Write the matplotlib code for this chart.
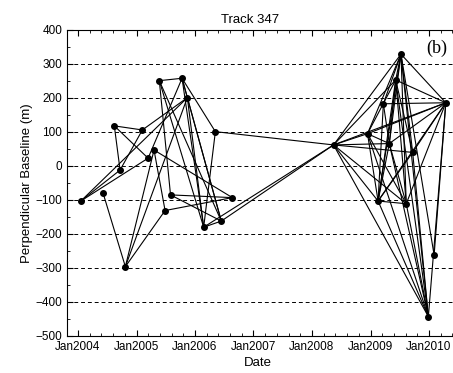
import matplotlib
matplotlib.use("Agg")
import matplotlib.pyplot as plt
import matplotlib.dates as mdates
from matplotlib.ticker import FixedLocator, MultipleLocator
import numpy as np
from datetime import datetime

# Acquisition dates and perpendicular baselines (m)
acq_dates = [
    "2004-01-19", "2004-06-06", "2004-08-15", "2004-09-20", "2004-10-23",
    "2005-02-06", "2005-03-14", "2005-04-20", "2005-05-23", "2005-06-28",
    "2005-08-01", "2005-10-12", "2005-11-14", "2006-02-24", "2006-05-08",
    "2006-06-14", "2006-08-22",
    "2008-05-15", "2008-12-13", "2009-03-22", "2009-04-28", "2009-06-07",
    "2009-07-10", "2009-02-17", "2009-08-12", "2010-04-16", "2009-09-21",
    "2010-02-02", "2009-12-28",
]
baselines = [
    -103, -80, 118, -12, -296,
    106, 23, 47, 251, -131,
    -85, 258, 201, -180, 101,
    -162, -93,
    62, 95, 183, 66, 253,
    329, -103, -111, 186, 40,
    -262, -443,
]

# Interferometric pairs (indices into the lists above)
pairs = [
    (0, 3), (0, 12), (0, 6), (1, 4), (2, 3), (2, 5), (2, 6), (3, 5),
    (4, 7), (4, 12), (4, 9), (5, 12), (7, 16), (7, 9), (8, 11), (8, 10),
    (8, 13), (8, 15), (11, 12), (11, 13), (11, 15), (11, 14), (12, 13),
    (12, 15), (14, 13), (10, 16), (10, 15), (9, 16), (13, 15), (6, 11),
    (13, 17), (15, 17), (14, 17),
    # 2008-2010 cluster
    (17, 18), (17, 20), (17, 21), (17, 22), (17, 25), (17, 23), (17, 24),
    (17, 28), (17, 26),
    (18, 22), (18, 21), (18, 25), (18, 23), (18, 24), (18, 28), (18, 20),
    (19, 22), (19, 20), (19, 23), (19, 25),
    (20, 22), (20, 21), (20, 25), (20, 23), (20, 24), (20, 28),
    (21, 22), (21, 25), (21, 23), (21, 24), (21, 28), (21, 26),
    (22, 25), (22, 24), (22, 23), (22, 28), (22, 27), (22, 26),
    (23, 24), (23, 25), (23, 28),
    (24, 25), (24, 28),
    (25, 27), (25, 28), (25, 26),
    (26, 28), (26, 23),
]

year_labels = ["Jan2004", "Jan2005", "Jan2006", "Jan2007", "Jan2008", "Jan2009", "Jan2010"]
years = [2004, 2005, 2006, 2007, 2008, 2009, 2010]

plt.rcParams['font.family'] = ['Liberation Sans', 'DejaVu Sans']

W, H = 453, 373
fig = plt.figure(figsize=(W / 100, H / 100), dpi=100)
right_px = 460
ax = fig.add_axes([67 / W, 1 - 336 / H, (right_px - 67) / W, (336 - 30) / H])

x = mdates.datestr2num(acq_dates)
y = np.array(baselines, dtype=float)

for i, j in pairs:
    ax.plot([x[i], x[j]], [y[i], y[j]], color='black', lw=0.8, zorder=2)
ax.plot(x, y, 'o', color='black', markersize=4, zorder=3)

# y grid
ax.set_ylim(-500, 400)
ax.set_yticks(np.arange(-500, 401, 100))
ax.yaxis.set_minor_locator(MultipleLocator(50))
for g in np.arange(-400, 301, 100):
    ax.axhline(g, color='black', lw=0.7, ls=(0, (4, 3)), zorder=1)

# x axis
def yr2num(yf):
    yi = int(np.floor(yf))
    base = mdates.date2num(datetime(yi, 1, 1))
    return base + (yf - yi) * 365.25

px_per_year = 58.5
ax.set_xlim(yr2num(2004 - (78 - 67) / px_per_year),
            yr2num(2004 + (right_px - 78) / px_per_year))
ax.set_xticks([mdates.date2num(datetime(yy, 1, 1)) for yy in years])
ax.set_xticklabels(year_labels)
minor = [yr2num(2003.8 + 0.2 * k) for k in range(0, 35)]
ax.xaxis.set_minor_locator(FixedLocator(minor))

ax.tick_params(axis='both', which='both', direction='in', top=True, right=True,
               labelsize=8.5, color='black')
ax.tick_params(which='major', length=4)
ax.tick_params(which='minor', length=2)
for s in ax.spines.values():
    s.set_linewidth(0.8)

ax.set_title("Track 347", fontsize=9.5, x=(250 - 67) / (right_px - 67), pad=5)
ax.set_xlabel("Date", fontsize=9.5, labelpad=3, x=(258 - 67) / (right_px - 67))
ax.set_ylabel("Perpendicular Baseline (m)", fontsize=9.5, labelpad=2)

ax.text((447 - 67) / (right_px - 67), 0.94, "(b)", transform=ax.transAxes,
        ha='right', va='center', fontsize=13,
        family=['Liberation Serif', 'DejaVu Serif'])

fig.savefig("out.png", dpi=100)
